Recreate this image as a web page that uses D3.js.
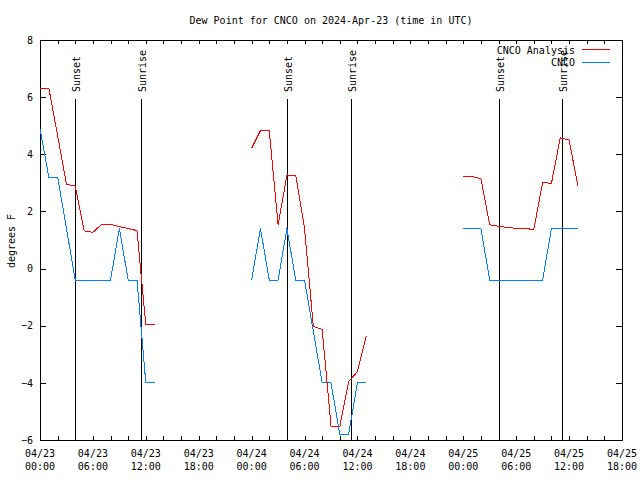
<!DOCTYPE html>
<html>
<head>
<meta charset="utf-8">
<script src="https://cdn.jsdelivr.net/npm/d3@7"></script>
<style>
  html, body { margin: 0; padding: 0; background: #fff; }
  svg { display: block; }
  text { font-family: "DejaVu Sans Mono", "Liberation Mono", monospace; font-size: 10px; fill: #000; }
</style>
</head>
<body>
<svg id="chart" width="640" height="480"></svg>
<script>
// ---- Data ----
const titleText = "Dew Point for CNCO on 2024-Apr-23 (time in UTC)";
const yLabel = "degrees F";
const seriesNames = ["CNCO Analysis", "CNCO"];
const seriesColors = ["#ff0000", "#0080ff"];

// hours since 2024-04-23 00:00 UTC
const hours = [0,1,2,3,4,5,6,7,8,9,10,11,12,13,
               24,25,26,27,28,29,30,31,32,33,34,35,36,37,
               48,49,50,51,52,53,54,55,56,57,58,59,60,61];
const analysis = [6.32,6.32,4.65,2.95,2.89,1.32,1.27,1.55,1.55,1.47,1.40,1.33,-1.97,-1.95,
                  4.21,4.83,4.83,1.53,3.26,3.26,1.40,-2.03,-2.13,-5.51,-5.53,-3.95,-3.61,-2.36,
                  3.24,3.22,3.15,1.53,1.48,1.44,1.41,1.40,1.37,3.02,2.98,4.58,4.50,2.89];
const observed = [4.9,3.2,3.2,1.4,-0.4,-0.4,-0.4,-0.4,-0.4,1.4,-0.4,-0.4,-4.0,-4.0,
                  -0.4,1.4,-0.4,-0.4,1.4,-0.4,-0.4,-2.2,-4.0,-4.0,-5.8,-5.8,-4.0,-4.0,
                  1.4,1.4,1.4,-0.4,-0.4,-0.4,-0.4,-0.4,-0.4,-0.4,1.4,1.4,1.4,1.4];

const sunsetHours = [3.97, 27.98, 52.03];
const sunriseHours = [11.4, 35.3, 59.17];

const yTicks = [-6,-4,-2,0,2,4,6,8];
const xMajorHours = [0,6,12,18,24,30,36,42,48,54,60,66];
const xMinorStep = 2;
const totalHours = 66;

// ---- Chart ----
const start = Date.UTC(2024, 3, 23, 0, 0, 0);
const toDate = h => new Date(start + h * 3600e3);

const svg = d3.select("#chart");
const L = 40, R = 622, T = 40, B = 440;

const x = d3.scaleUtc().domain([toDate(0), toDate(totalHours)]).range([L, R]);
const y = d3.scaleLinear().domain([-6, 8]).range([B, T]);

// Title
svg.append("text").attr("x", 331).attr("y", 24).attr("text-anchor", "middle").text(titleText);

// Y label
svg.append("text")
  .attr("transform", "translate(15,241) rotate(-90)")
  .attr("text-anchor", "middle").text(yLabel);

// Ticks
const minorDates = d3.range(0, totalHours + 0.001, xMinorStep).map(toDate);
const axB = svg.append("g").attr("transform", `translate(0,${B})`)
  .call(d3.axisBottom(x).tickValues(minorDates).tickSize(-4).tickFormat(""));
const axT = svg.append("g").attr("transform", `translate(0,${T})`)
  .call(d3.axisTop(x).tickValues(minorDates).tickSize(-4).tickFormat(""));
const axL = svg.append("g").attr("transform", `translate(${L},0)`)
  .call(d3.axisLeft(y).tickValues(yTicks).tickSize(-6).tickPadding(7).tickFormat(d3.format("d")));
const axR = svg.append("g").attr("transform", `translate(${R},0)`)
  .call(d3.axisRight(y).tickValues(yTicks).tickSize(-6).tickFormat(""));
[axB, axT, axL, axR].forEach(g => {
  g.select(".domain").remove();
  g.selectAll("line").attr("stroke", "#000").attr("shape-rendering", "crispEdges");
});
axL.selectAll("text").attr("font-family", null).attr("font-size", null)
  .style("font-family", "'DejaVu Sans Mono', monospace").style("font-size", "10px");
svg.selectAll(".tick text").attr("fill", "#000");

// X labels (two lines)
const fmtDay = d3.utcFormat("%m/%d"), fmtTime = d3.utcFormat("%H:%M");
const xl = svg.append("g").selectAll("text").data(xMajorHours.map(toDate)).join("text")
  .attr("x", d => x(d)).attr("text-anchor", "middle");
xl.append("tspan").attr("x", d => x(d)).attr("y", 457).text(d => fmtDay(d));
xl.append("tspan").attr("x", d => x(d)).attr("y", 470).text(d => fmtTime(d));

// Frame
svg.append("rect").attr("x", L + 0.5).attr("y", T + 0.5)
  .attr("width", R - L).attr("height", B - T)
  .attr("fill", "none").attr("stroke", "#000").attr("shape-rendering", "crispEdges");

// Sunset / sunrise markers
const events = sunsetHours.map(h => ({h, label: "Sunset"}))
  .concat(sunriseHours.map(h => ({h, label: "Sunrise"})));
const ev = svg.append("g").selectAll("g").data(events).join("g");
ev.append("line")
  .attr("x1", d => Math.round(x(toDate(d.h))) + 0.5).attr("x2", d => Math.round(x(toDate(d.h))) + 0.5)
  .attr("y1", 99).attr("y2", B)
  .attr("stroke", "#000").attr("stroke-width", 1).attr("shape-rendering", "crispEdges");
ev.append("text")
  .attr("transform", d => `translate(${Math.round(x(toDate(d.h))) + 5},92) rotate(-90)`)
  .attr("text-anchor", "start").text(d => d.label);

// Series
const pts = hours.map((h, i) => ({h, a: analysis[i], o: observed[i]}));
const segments = [];
pts.forEach((p, i) => {
  if (i === 0 || p.h - pts[i - 1].h > 1) segments.push([]);
  segments[segments.length - 1].push(p);
});
const lineA = d3.line().x(d => x(toDate(d.h))).y(d => y(d.a));
const lineO = d3.line().x(d => x(toDate(d.h))).y(d => y(d.o));
const gS = svg.append("g");
gS.selectAll("path.obs").data(segments).join("path").attr("class", "obs")
  .attr("d", lineO).attr("fill", "none").attr("stroke", seriesColors[1])
  .attr("stroke-width", 1).attr("shape-rendering", "crispEdges");
gS.selectAll("path.ana").data(segments).join("path").attr("class", "ana")
  .attr("d", lineA).attr("fill", "none").attr("stroke", seriesColors[0])
  .attr("stroke-width", 1).attr("shape-rendering", "crispEdges");

// Legend
const lg = svg.append("g").selectAll("g").data(seriesNames).join("g")
  .attr("transform", (d, i) => `translate(0,${50 + i * 12.5})`);
lg.append("text").attr("x", 575).attr("y", 3.5).attr("text-anchor", "end").text(d => d);
lg.append("line").attr("x1", 582).attr("x2", 610).attr("y1", -0.5).attr("y2", -0.5)
  .attr("stroke", (d, i) => seriesColors[i]).attr("shape-rendering", "crispEdges");
</script>
</body>
</html>
